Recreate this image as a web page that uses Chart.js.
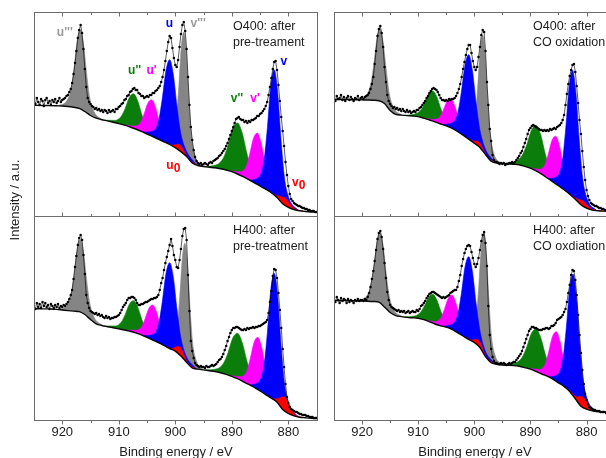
<!DOCTYPE html>
<html>
<head>
<meta charset="utf-8">
<title>Ce 3d XPS spectra</title>
<script src="https://cdn.jsdelivr.net/npm/chart.js@4.4.1/dist/chart.umd.min.js"></script>
<style>
  html, body { margin: 0; padding: 0; background: #fff; overflow: hidden; width: 606px; height: 458px; }
  #wrap { position: relative; width: 620px; height: 458px; }
  #wrap canvas { position: absolute; left: 0; top: 0; }
</style>
</head>
<body>
<div id="wrap">
  <canvas id="pTL" width="620" height="458"></canvas>
  <canvas id="pTR" width="620" height="458"></canvas>
  <canvas id="pBL" width="620" height="458"></canvas>
  <canvas id="pBR" width="620" height="458"></canvas>
</div>
<script>
// ---------- axis settings ----------
const majorTicks = [920, 910, 900, 890, 880];
const minorTicks = [915, 905, 895, 885];
const xTitle = 'Binding energy / eV';
const yTitle = 'Intensity / a.u.';

// measured energy grid (0.25 eV steps)
const energyGrid = [
  925,924.75,924.5,924.25, 924,923.75,923.5,923.25, 923,922.75,922.5,922.25, 922,921.75,921.5,921.25,
  921,920.75,920.5,920.25, 920,919.75,919.5,919.25, 919,918.75,918.5,918.25, 918,917.75,917.5,917.25,
  917,916.75,916.5,916.25, 916,915.75,915.5,915.25, 915,914.75,914.5,914.25, 914,913.75,913.5,913.25,
  913,912.75,912.5,912.25, 912,911.75,911.5,911.25, 911,910.75,910.5,910.25, 910,909.75,909.5,909.25,
  909,908.75,908.5,908.25, 908,907.75,907.5,907.25, 907,906.75,906.5,906.25, 906,905.75,905.5,905.25,
  905,904.75,904.5,904.25, 904,903.75,903.5,903.25, 903,902.75,902.5,902.25, 902,901.75,901.5,901.25,
  901,900.75,900.5,900.25, 900,899.75,899.5,899.25, 899,898.75,898.5,898.25, 898,897.75,897.5,897.25,
  897,896.75,896.5,896.25, 896,895.75,895.5,895.25, 895,894.75,894.5,894.25, 894,893.75,893.5,893.25,
  893,892.75,892.5,892.25, 892,891.75,891.5,891.25, 891,890.75,890.5,890.25, 890,889.75,889.5,889.25,
  889,888.75,888.5,888.25, 888,887.75,887.5,887.25, 887,886.75,886.5,886.25, 886,885.75,885.5,885.25,
  885,884.75,884.5,884.25, 884,883.75,883.5,883.25, 883,882.75,882.5,882.25, 882,881.75,881.5,881.25,
  881,880.75,880.5,880.25, 880,879.75,879.5,879.25, 879,878.75,878.5,878.25, 878,877.75,877.5,877.25,
  877,876.75,876.5,876.25, 876,875.75,875.5,875.25, 875
];

// Shirley background energies (1 eV steps)
const bgEnergy = [
  925,924,923,922,921,920,919,918,917,916,915,914,913,912,911,910,909,908,907,906,905,904,903,902,901,
  900,899,898,897,896,895,894,893,892,891,890,889,888,887,886,885,884,883,882,881,880,879,878,877,876,875
];

// ---------- O400 after pre-treatment ----------
const countsO400pre = [
  117,113,119,115, 112,118,116,111, 117,119,114,116, 112,117,115,118,
  114,116,119,115, 117,118,119,121, 122,125,128,134, 143,154,166,179,
  187,192,184,168, 148,130,119,115, 113,111,110,108, 109,107,108,106,
  107,105,107,106, 104,107,105,106, 107,105,108,108, 110,111,113,114,
  117,118,121,122, 125,126,128,129, 127,127,124,123, 121,121,119,120,
  121,120,122,122, 124,124,126,127, 129,131,135,140, 147,156,166,175,
  181,179,169,159, 152,150,157,170, 183,192,195,186, 168,140,112,90,
  77,67,60,56, 54,53,54,52, 53,54,53,52, 54,55,54,56,
  57,58,59,61, 62,64,66,68, 71,74,78,82, 86,90,94,98,
  99,100,98,97, 97,95,96,94, 96,95,97,97, 98,99,101,101,
  103,104,106,108, 111,115,122,130, 139,148,155,156, 147,132,116,100,
  86,71,55,42, 31,23,18,16, 14,13,12,11, 11,10,9,9,
  8,8,7,7, 6,6,6,5, 5
];
const bgO400pre = [
  111.7,111.6,111.5,111.4,111.2,111.0,110.5,109.7,108.6,105.5,101.5,98.8,97.3,96.1,94.8,93.4,91.8,90.0,88.0,85.6,83.0,80.5,77.8,75.2,72.5,
  69.3,65.3,60.5,54.0,51.5,50.5,49.8,49.2,48.3,47.0,45.3,43.0,40.3,37.3,34.2,31.0,27.8,24.3,19.5,13.3,9.7,7.5,6.2,5.5,5.0,4.8
];
const o400pre_u3 = [[920.8,111.2],[919.2,116.2],[918.45,127.5],[917.9,149.1],[917.35,176.2],[916.8,187.0],[916.25,173.5],[915.7,143.8],[915.15,119.5],[914.4,105.4],[912.8,97.1]];
const o400pre_u2 = [[912.6,96.8],[910.6,96.6],[909.6,100.4],[908.85,108.8],[908.13,119.6],[907.4,123.3],[906.67,116.5],[905.95,102.8],[905.2,91.1],[904.2,83.4],[902.2,75.7]];
const o400pre_u1 = [[909.1,92.0],[907.2,90.9],[906.2,94.1],[905.55,102.6],[904.88,113.6],[904.2,117.3],[903.52,110.1],[902.85,95.6],[902.2,83.7],[901.2,75.5],[899.3,66.5]];
const o400pre_u  = [[905.7,84.8],[903.85,86.0],[902.95,96.4],[902.3,118.4],[901.65,146.4],[901.0,157.3],[900.35,142.5],[899.7,110.5],[899.05,84.2],[898.15,67.4],[896.3,52.3]];
const o400pre_u0 = [[902.1,75.5],[900.95,72.6],[900.4,71.8],[900.0,72.3],[899.6,72.7],[899.2,72.1],[898.8,69.3],[898.4,65.4],[898.0,61.7],[897.45,57.2],[896.3,52.3]];
const o400pre_v3 = [[901.75,74.5],[900.5,79.4],[899.85,95.6],[899.4,128.0],[898.95,168.9],[898.5,185.0],[898.05,164.6],[897.6,119.0],[897.15,81.9],[896.5,61.3],[895.25,50.8]];
const o400pre_v2 = [[894.9,50.4],[892.6,52.4],[891.5,58.9],[890.65,71.9],[889.83,88.3],[889.0,94.0],[888.17,84.2],[887.35,63.9],[886.5,47.0],[885.4,35.9],[883.1,24.7]];
const o400pre_v1 = [[890.4,46.0],[888.5,45.3],[887.5,50.1],[886.85,62.6],[886.18,78.5],[885.5,84.0],[884.82,74.1],[884.15,54.0],[883.5,37.4],[882.5,25.5],[880.6,11.5]];
const o400pre_v  = [[886.8,36.7],[885.15,40.3],[884.3,56.5],[883.7,89.5],[883.1,131.3],[882.5,147.3],[881.9,125.5],[881.3,77.9],[880.7,39.8],[879.85,18.2],[878.2,6.5]];
const o400pre_v0 = [[884.2,28.5],[882.8,23.7],[882.1,21.6],[881.6,20.8],[881.1,20.0],[880.6,19.3],[880.1,16.3],[879.6,12.4],[879.1,9.2],[878.4,7.1],[877.0,5.5]];

// ---------- O400 after CO oxidation ----------
const countsO400co = [
  120,116,121,118, 119,122,117,120, 116,119,121,117, 120,118,116,119,
  118,121,117,119, 120,118,120,121, 122,124,128,133, 140,153,166,181,
  188,191,184,170, 150,135,122,116, 113,111,109,110, 108,109,107,108,
  106,108,106,105, 107,105,106,104, 105,106,105,107, 107,109,110,112,
  114,116,119,121, 124,126,128,129, 128,127,125,122, 119,117,117,116,
  117,116,118,117, 118,118,119,121, 124,128,133,140, 148,155,162,168,
  172,172,164,156, 150,147,150,160, 170,182,187,185, 166,135,112,88,
  76,62,57,55, 55,54,53,54, 53,54,52,53, 53,54,54,55,
  54,55,57,59, 61,64,66,70, 74,78,83,87, 89,91,92,91,
  90,89,88,87, 87,86,87,86, 87,86,88,87, 88,89,88,90,
  91,92,94,97, 102,112,123,133, 141,147,152,153, 145,131,114,97,
  83,66,50,37, 27,21,17,14, 13,12,11,11, 10,9,9,8,
  8,7,7,7, 6,6,6,5, 5
];
const bgO400co = [
  117.5,117.5,117.4,117.3,117.2,117.1,117.0,116.8,116.3,113.5,106.5,102.6,101.9,101.4,101.0,100.4,98.8,97.0,95.2,93.0,91.2,88.8,85.5,81.8,77.9,
  73.8,69.5,62.5,55.8,54.0,53.6,53.1,52.7,52.2,50.6,48.9,46.1,42.8,39.0,35.2,31.3,27.2,22.8,17.8,12.3,8.8,6.9,6.3,5.9,5.6,5.3
];
const o400co_u3 = [[920.8,117.2],[919.2,122.1],[918.45,132.9],[917.9,153.0],[917.35,178.1],[916.8,188.2],[916.25,174.6],[915.7,147.7],[915.15,123.5],[914.4,109.3],[912.8,101.8]];
const o400co_u2 = [[912.6,101.7],[910.6,102.9],[909.6,106.4],[908.85,113.6],[908.13,122.8],[907.4,126.0],[906.67,120.1],[905.95,108.0],[905.2,98.2],[904.2,91.4],[902.2,82.5]];
const o400co_u1 = [[909.1,99.0],[907.2,97.6],[906.2,99.7],[905.55,106.6],[904.88,115.4],[904.2,118.3],[903.52,111.7],[902.85,99.3],[902.2,88.8],[901.2,80.7],[899.3,70.8]];
const o400co_u  = [[905.7,92.5],[903.85,94.2],[902.95,103.9],[902.3,125.1],[901.65,152.1],[901.0,162.3],[900.35,146.9],[899.7,114.7],[899.05,88.5],[898.15,69.5],[896.3,54.5]];
const o400co_u0 = [[902.1,82.2],[900.95,77.9],[900.4,76.3],[900.0,76.1],[899.6,75.9],[899.2,74.9],[898.8,71.9],[898.4,67.6],[898.0,63.4],[897.45,59.0],[896.3,54.5]];
const o400co_v3 = [[901.75,80.9],[900.5,84.0],[899.85,98.7],[899.4,129.1],[898.95,167.5],[898.5,181.7],[898.05,161.2],[897.6,117.7],[897.15,82.3],[896.5,63.0],[895.25,53.7]];
const o400co_v2 = [[894.9,53.6],[892.6,55.7],[891.5,61.4],[890.65,72.3],[889.83,86.6],[889.0,91.7],[888.17,82.2],[887.35,63.1],[886.5,47.1],[885.4,36.1],[883.1,23.2]];
const o400co_v1 = [[890.4,49.6],[888.5,47.8],[887.5,51.3],[886.85,62.1],[886.18,76.2],[885.5,80.7],[884.82,70.9],[884.15,51.6],[883.5,35.4],[882.5,23.6],[880.6,10.9]];
const o400co_v  = [[886.8,38.3],[885.15,40.8],[884.3,56.2],[883.7,89.1],[883.1,130.7],[882.5,146.7],[881.9,124.7],[881.3,77.2],[880.7,39.1],[879.85,17.4],[878.2,6.4]];
const o400co_v0 = [[884.2,28.0],[882.8,22.1],[882.1,19.4],[881.6,18.1],[881.1,17.1],[880.6,15.9],[880.1,13.4],[879.6,10.4],[879.1,8.1],[878.4,6.9],[877.0,5.9]];

// ---------- H400 after pre-treatment ----------
const countsH400pre = [
  116,112,118,114, 117,113,119,115, 118,114,116,112, 117,115,113,116,
  114,117,113,115, 114,116,115,117, 119,122,126,131, 142,154,165,176,
  183,186,181,166, 147,126,118,113, 110,109,108,107, 108,106,107,105,
  106,104,103,105, 103,104,102,103, 103,104,104,105, 106,108,111,114,
  116,118,121,123, 123,124,124,123, 121,118,116,116, 117,117,118,119,
  119,120,121,122, 122,123,123,124, 126,131,138,143, 151,158,164,170,
  176,182,175,166, 161,154,153,161, 172,185,192,193, 181,146,110,80,
  70,63,58,56, 55,54,55,54, 54,53,55,54, 54,55,56,55,
  56,57,59,61, 62,64,67,71, 75,80,84,88, 91,93,93,94,
  94,93,92,91, 91,92,91,93, 92,93,93,94, 93,94,94,95,
  95,96,97,98, 99,101,108,119, 130,145,152,151, 143,128,111,93,
  72,54,37,24, 18,14,12,11, 10,9,9,8, 7,7,6,6,
  6,5,5,4, 4,4,3,3, 3
];
const bgH400pre = [
  112.3,112.2,112.1,112.0,111.6,111.0,110.4,109.9,109.3,106.5,101.5,97.2,95.5,94.3,93.2,92.1,91.0,89.8,88.2,86.2,83.7,81.0,78.3,75.5,72.5,
  69.9,65.0,58.7,53.0,51.9,51.1,50.3,49.5,48.3,46.7,44.7,42.3,39.5,36.6,33.5,30.2,26.4,22.8,18.8,11.6,7.5,5.2,3.8,3.2,2.7,2.5
];
const h400pre_u3 = [[920.8,111.5],[919.2,115.6],[918.45,126.2],[917.9,146.4],[917.35,171.6],[916.8,181.7],[916.25,169.3],[915.7,141.5],[915.15,118.4],[914.4,104.0],[912.8,95.3]];
const h400pre_u2 = [[912.6,95.0],[910.6,95.0],[909.6,98.6],[908.85,106.6],[908.13,116.8],[907.4,120.3],[906.67,114.3],[905.95,101.9],[905.2,91.1],[904.2,83.7],[902.2,76.1]];
const h400pre_u1 = [[908.9,90.9],[907.0,90.7],[906.0,93.9],[905.35,102.1],[904.68,112.6],[904.0,116.0],[903.32,109.0],[902.65,94.8],[902.0,83.2],[901.0,75.0],[899.1,65.5]];
const h400pre_u  = [[905.7,85.5],[903.85,86.6],[902.95,97.1],[902.3,119.2],[901.65,147.4],[901.0,158.3],[900.35,143.7],[899.7,111.4],[899.05,84.2],[898.15,65.7],[896.3,52.2]];
const h400pre_u0 = [[902.1,75.8],[900.95,72.8],[900.4,72.5],[900.0,73.9],[899.6,74.6],[899.2,74.0],[898.8,70.4],[898.4,65.2],[898.0,60.3],[897.45,56.0],[896.3,52.2]];
const h400pre_v3 = [[901.55,74.2],[900.3,79.6],[899.65,94.0],[899.2,124.8],[898.75,162.9],[898.3,177.7],[897.85,157.4],[897.4,113.9],[896.95,78.8],[896.3,60.4],[895.05,51.2]];
const h400pre_v2 = [[894.9,51.0],[892.6,52.2],[891.5,57.5],[890.65,68.6],[889.83,82.9],[889.0,87.7],[888.17,78.6],[887.35,60.3],[886.5,45.1],[885.4,34.7],[883.1,23.2]];
const h400pre_v1 = [[890.3,45.3],[888.4,44.3],[887.4,49.3],[886.75,61.9],[886.08,78.2],[885.4,83.7],[884.72,73.5],[884.05,52.7],[883.4,35.7],[882.4,24.1],[880.5,9.6]];
const h400pre_v  = [[886.8,36.0],[885.15,39.6],[884.3,55.4],[883.7,88.8],[883.1,131.1],[882.5,147.7],[881.9,126.0],[881.3,77.3],[880.7,38.3],[879.85,16.1],[878.2,4.1]];
const h400pre_v0 = [[884.2,27.2],[882.8,22.7],[882.1,22.0],[881.6,23.0],[881.1,24.1],[880.6,24.0],[880.1,19.7],[879.6,13.2],[879.1,8.1],[878.4,5.1],[877.0,3.2]];

// ---------- H400 after CO oxidation ----------
const countsH400co = [
  123,119,124,121, 118,123,120,122, 121,118,122,119, 121,120,118,121,
  120,122,120,121, 121,120,122,121, 124,128,134,142, 150,160,171,182,
  188,190,184,172, 158,143,129,121, 116,114,113,112, 111,110,111,109,
  110,109,110,108, 109,110,108,109, 110,109,109,111, 110,112,115,116,
  118,120,123,125, 127,128,129,129, 128,127,126,125, 124,123,124,123,
  124,125,126,128, 129,130,131,131, 134,140,146,155, 162,168,172,175,
  176,175,169,163, 157,154,157,163, 171,180,186,189, 178,155,115,86,
  72,64,60,58, 58,57,57,58, 57,58,57,56, 57,58,57,58,
  59,59,61,63, 65,67,70,74, 78,82,86,90, 92,94,94,93,
  93,92,91,91, 91,92,92,93, 93,92,93,95, 95,96,98,101,
  102,103,104,106, 109,112,119,128, 136,146,151,150, 141,126,106,86,
  68,51,37,27, 21,17,14,13, 12,11,11,10, 10,10,9,9,
  9,9,8,8, 8,8,8,8, 8
];
const bgH400co = [
  120.5,120.5,120.4,120.3,120.2,120.0,119.8,119.5,118.8,114.0,108.5,105.4,104.4,103.6,103.2,102.8,101.3,99.2,97.0,95.2,93.8,91.7,88.4,85.0,81.5,
  78.6,73.5,64.3,58.4,56.8,56.0,55.7,55.4,54.7,53.4,51.9,49.6,47.0,44.8,41.8,38.2,34.6,29.5,22.2,14.8,11.8,10.3,9.4,9.0,8.7,8.5
];
const h400co_u3 = [[920.8,120.2],[919.2,124.8],[918.45,135.2],[917.9,154.7],[917.35,179.0],[916.8,188.3],[916.25,175.1],[915.7,147.6],[915.15,124.8],[914.4,111.6],[912.8,104.3]];
const h400co_u2 = [[912.6,104.1],[910.6,105.1],[909.6,108.5],[908.85,115.4],[908.13,124.0],[907.4,126.7],[906.67,120.9],[905.95,109.5],[905.2,100.4],[904.2,94.1],[902.2,85.7]];
const h400co_u1 = [[908.9,101.1],[907.0,99.4],[906.0,102.7],[905.35,111.2],[904.68,122.3],[904.0,126.0],[903.32,118.6],[902.65,104.4],[902.0,92.5],[901.0,83.9],[899.1,74.0]];
const h400co_u  = [[905.7,94.8],[903.85,97.0],[902.95,106.4],[902.3,127.4],[901.65,154.2],[901.0,164.3],[900.35,150.0],[899.7,118.5],[899.05,92.2],[898.15,71.5],[896.3,57.0]];
const h400co_u0 = [[902.1,85.3],[900.95,81.7],[900.4,80.8],[900.0,81.6],[899.6,81.6],[899.2,80.5],[898.8,76.7],[898.4,71.0],[898.0,65.5],[897.45,61.4],[896.3,57.3]];
const h400co_v3 = [[901.55,83.4],[900.3,87.9],[899.65,103.3],[899.2,134.8],[898.75,173.7],[898.3,187.7],[897.85,165.9],[897.4,121.1],[896.95,84.8],[896.3,65.5],[895.05,56.1]];
const h400co_v2 = [[894.9,56.0],[892.6,58.1],[891.5,63.4],[890.65,74.1],[889.83,87.5],[889.0,92.0],[888.17,83.4],[887.35,66.8],[886.5,52.6],[885.4,42.6],[883.1,30.0]];
const h400co_v1 = [[890.3,52.4],[888.4,51.6],[887.4,56.6],[886.75,68.9],[886.08,84.3],[885.4,89.3],[884.72,79.4],[884.05,59.7],[883.4,42.5],[882.4,30.1],[880.5,13.3]];
const h400co_v  = [[886.7,43.9],[885.05,46.9],[884.2,62.1],[883.6,93.5],[883.0,133.1],[882.4,147.0],[881.8,124.3],[881.2,77.3],[880.6,40.4],[879.75,19.9],[878.1,9.5]];
const h400co_v0 = [[884.2,35.3],[882.8,29.3],[882.1,24.9],[881.6,24.1],[881.1,24.7],[880.6,23.6],[880.1,20.5],[879.6,16.2],[879.1,12.6],[878.4,10.1],[877.0,9.0]];

// ---------- peak assignment labels (first panel) ----------
const labelText   = ["u'''", "v'''", "u''", "u'", "u", "v''", "v'", "v", "u", "v"];
const labelSub    = ["", "", "", "", "", "", "", "", "0", "0"];
const labelEnergy = [919.55, 895.95, 907.2, 904.2, 901.05, 889.1, 885.9, 880.8, 900.35, 878.15];
const labelLevel  = [184.5, 193, 146, 146, 193, 118, 118, 155, 51, 34];
const labelColor  = ['#9a9a9a', '#9a9a9a', '#0b7d0b', '#ff00ff', '#0000ff', '#0b7d0b', '#ff00ff', '#0000ff', '#ff0000', '#ff0000'];

// component colours
const C_GRAY = '#858585', C_GREEN = '#0a7d0a', C_MAGENTA = '#ff00ff', C_BLUE = '#0000ff', C_RED = '#ff0000';
const FONT = "'Liberation Sans', Arial, Helvetica, sans-serif";

const xy = (xs, ys) => xs.map((x, i) => ({ x, y: ys[i] }));
const pairs = (arr) => arr.map(([x, y]) => ({ x, y }));

function component(points, color) {
  return {
    data: pairs(points),
    borderColor: color,
    borderWidth: 0.6,
    backgroundColor: color,
    pointRadius: 0,
    cubicInterpolationMode: 'monotone',
    fill: 1
  };
}

function decor(cfg) {
  return {
    id: 'panelDecor',
    afterDraw(chart) {
      const { ctx, chartArea: a, scales: { x, y } } = chart;
      ctx.save();
      // frame
      const x0 = a.left + 0.5, x1 = a.right - 0.5, y0 = a.top - 0.5, y1 = a.bottom - 0.5;
      ctx.strokeStyle = '#6c6c6c';
      ctx.lineWidth = 1;
      ctx.strokeRect(x0, y0, x1 - x0, y1 - y0);
      // ticks
      ctx.beginPath();
      const tick = (v, len) => {
        const px = Math.round(x.getPixelForValue(v)) + 0.5;
        if (cfg.bottomRow) {
          ctx.moveTo(px, y1); ctx.lineTo(px, y1 + len);
        } else {
          ctx.moveTo(px, y0); ctx.lineTo(px, y0 + len);
          ctx.moveTo(px, y1); ctx.lineTo(px, y1 - len);
        }
      };
      majorTicks.forEach(v => tick(v, 4));
      minorTicks.forEach(v => tick(v, 2.5));
      ctx.stroke();

      ctx.fillStyle = '#1c1c1c';
      ctx.textBaseline = 'middle';
      if (cfg.bottomRow) {
        ctx.font = '13px ' + FONT;
        ctx.textAlign = 'center';
        majorTicks.forEach(v => ctx.fillText(String(v), x.getPixelForValue(v), a.bottom + 11.5));
        ctx.fillText(xTitle, (a.left + a.right) / 2, a.bottom + 31);
      }
      // sample caption
      ctx.font = '12.5px ' + FONT;
      ctx.textAlign = 'left';
      ctx.fillText(cfg.caption[0], a.left + 199, a.top + 13.5);
      ctx.fillText(cfg.caption[1], a.left + 199, a.top + 29.5);

      if (cfg.yTitle) {
        ctx.save();
        ctx.translate(15, 200);
        ctx.rotate(-Math.PI / 2);
        ctx.font = '13px ' + FONT;
        ctx.textAlign = 'center';
        ctx.fillText(yTitle, 0, 0);
        ctx.restore();
      }
      if (cfg.peakLabels) {
        ctx.font = 'bold 12px ' + FONT;
        ctx.textAlign = 'left';
        labelText.forEach((t, i) => {
          const px = x.getPixelForValue(labelEnergy[i]);
          const py = y.getPixelForValue(labelLevel[i]);
          const wMain = ctx.measureText(t).width;
          const wSub = labelSub[i] ? ctx.measureText(labelSub[i]).width : 0;
          const left = px - (wMain + wSub) / 2;
          ctx.fillStyle = labelColor[i];
          ctx.fillText(t, left, py);
          if (labelSub[i]) ctx.fillText(labelSub[i], left + wMain, py + 3);
        });
      }
      ctx.restore();
    }
  };
}

function panel(id, area, counts, bg, comp, cfg) {
  const W = 620, H = 458;
  const datasets = [
    { data: xy(energyGrid, counts), showLine: true, borderColor: 'rgba(0,0,0,0.8)', borderWidth: 0.8,
      pointRadius: 1.25, pointBackgroundColor: '#000', pointBorderWidth: 0, fill: false },
    { data: xy(bgEnergy, bg), borderColor: '#0a0a0a', borderWidth: 1.4, pointRadius: 0,
      cubicInterpolationMode: 'monotone', fill: false },
    component(comp.u0, C_RED), component(comp.v0, C_RED),
    component(comp.u, C_BLUE), component(comp.v, C_BLUE),
    component(comp.u1, C_MAGENTA), component(comp.v1, C_MAGENTA),
    component(comp.u2, C_GREEN), component(comp.v2, C_GREEN),
    component(comp.u3, C_GRAY), component(comp.v3, C_GRAY)
  ];
  return new Chart(document.getElementById(id), {
    type: 'line',
    data: { datasets },
    options: {
      responsive: false,
      animation: false,
      devicePixelRatio: 1,
      events: [],
      layout: { padding: { left: area[0], top: area[1], right: W - area[2], bottom: H - area[3] } },
      plugins: { legend: { display: false }, tooltip: { enabled: false } },
      scales: {
        x: { type: 'linear', min: 874.75, max: 925, reverse: true, display: false },
        y: { type: 'linear', min: 0, max: 204, display: false }
      }
    },
    plugins: [decor(cfg)]
  });
}

panel('pTL', [34, 13, 318, 217], countsO400pre, bgO400pre,
  { u3: o400pre_u3, u2: o400pre_u2, u1: o400pre_u1, u: o400pre_u, u0: o400pre_u0,
    v3: o400pre_v3, v2: o400pre_v2, v1: o400pre_v1, v: o400pre_v, v0: o400pre_v0 },
  { caption: ['O400: after', 'pre-treament'], bottomRow: false, yTitle: true, peakLabels: true });

panel('pTR', [334, 13, 618, 217], countsO400co, bgO400co,
  { u3: o400co_u3, u2: o400co_u2, u1: o400co_u1, u: o400co_u, u0: o400co_u0,
    v3: o400co_v3, v2: o400co_v2, v1: o400co_v1, v: o400co_v, v0: o400co_v0 },
  { caption: ['O400: after', 'CO oxidation'], bottomRow: false });

panel('pBL', [34, 217, 318, 421], countsH400pre, bgH400pre,
  { u3: h400pre_u3, u2: h400pre_u2, u1: h400pre_u1, u: h400pre_u, u0: h400pre_u0,
    v3: h400pre_v3, v2: h400pre_v2, v1: h400pre_v1, v: h400pre_v, v0: h400pre_v0 },
  { caption: ['H400: after', 'pre-treatment'], bottomRow: true });

panel('pBR', [334, 217, 618, 421], countsH400co, bgH400co,
  { u3: h400co_u3, u2: h400co_u2, u1: h400co_u1, u: h400co_u, u0: h400co_u0,
    v3: h400co_v3, v2: h400co_v2, v1: h400co_v1, v: h400co_v, v0: h400co_v0 },
  { caption: ['H400: after', 'CO oxdiation'], bottomRow: true });
</script>
</body>
</html>
